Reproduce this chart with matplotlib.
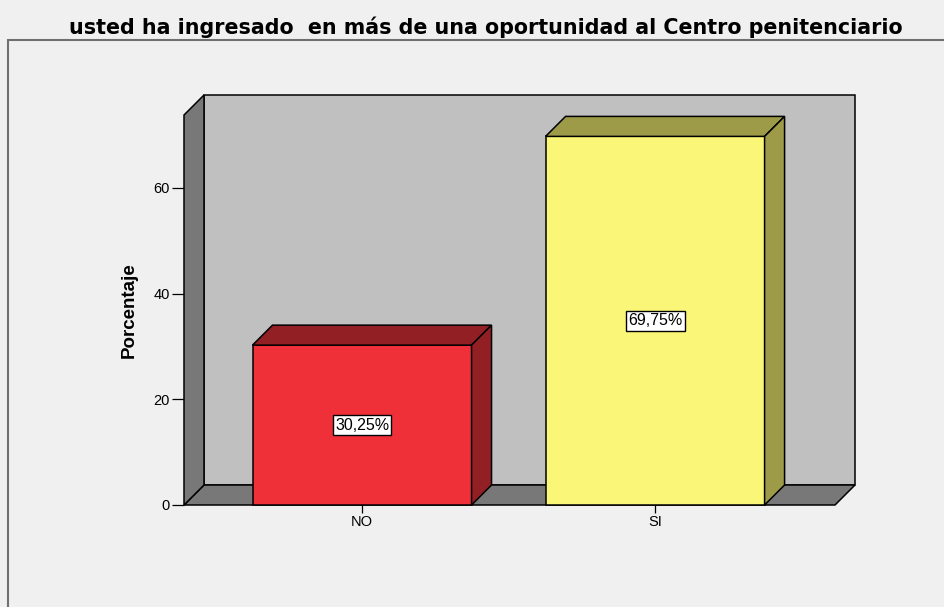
import matplotlib
matplotlib.use("Agg")
import matplotlib.pyplot as plt
from matplotlib.patches import Polygon, Rectangle

# ---- data ----
categories = ["NO", "SI"]
values = [30.25, 69.75]
yticks = [0, 20, 40, 60]
title = "usted ha ingresado  en más de una oportunidad al Centro penitenciario"
ylabel = "Porcentaje"

front_colors = ["#EF3038", "#FAF677"]
dark_colors = ["#921F23", "#9D9A48"]

W, H = 944, 607
fig = plt.figure(figsize=(W / 100, H / 100), dpi=100, facecolor="#F0F0F0")

# outer frame
fig.patches.append(Rectangle((8 / W, -0.02), 1.0, (H - 40) / H + 0.02,
                             transform=fig.transFigure, fill=False,
                             ec="#707070", lw=1.5))

ax = fig.add_axes([184 / W, 1 - 505 / H, 651 / W, 390 / H])
ax.patch.set_visible(False)
for s in ax.spines.values():
    s.set_visible(False)

ymax = 73.8
xl, xr = -0.6075, 1.614
ax.set_xlim(xl, xr)
ax.set_ylim(0, ymax)
ddx = (xr - xl) / 651 * 20
ddy = ymax / 390 * 20
hw = 0.3737

def poly(verts, fc, z):
    ax.add_patch(Polygon(verts, closed=True, fc=fc, ec="black", lw=1.1,
                         clip_on=False, zorder=z, joinstyle="miter"))

# walls
poly([(xl + ddx, ddy), (xr + ddx, ddy), (xr + ddx, ymax + ddy), (xl + ddx, ymax + ddy)], "#C0C0C0", 1)
poly([(xl, 0), (xr, 0), (xr + ddx, ddy), (xl + ddx, ddy)], "#787878", 2)
poly([(xl, 0), (xl + ddx, ddy), (xl + ddx, ymax + ddy), (xl, ymax)], "#787878", 2)

for i, (cat, v) in enumerate(zip(categories, values)):
    poly([(i - hw, 0), (i + hw, 0), (i + hw, v), (i - hw, v)], front_colors[i], 3)
    poly([(i - hw, v), (i + hw, v), (i + hw + ddx, v + ddy), (i - hw + ddx, v + ddy)], dark_colors[i], 3)
    poly([(i + hw, 0), (i + hw + ddx, ddy), (i + hw + ddx, v + ddy), (i + hw, v)], dark_colors[i], 3)
    lab = f"{v:.2f}".replace(".", ",") + "%"
    ax.text(i, v / 2, lab, ha="center", va="center", fontsize=11.5,
            family="Liberation Sans", zorder=5,
            bbox=dict(boxstyle="square,pad=0.15", fc="white", ec="black", lw=1.0))

ax.set_xticks(range(len(categories)))
ax.set_xticklabels(categories, family="Liberation Sans", fontsize=10.5)
ax.set_yticks(yticks)
ax.set_yticklabels([str(t) for t in yticks], family="Liberation Sans", fontsize=10.5)
ax.tick_params(axis="y", length=8.5, width=0.9, pad=1.5, colors="black")
ax.tick_params(axis="x", length=5.5, width=0.9, pad=1.5, colors="black")

fig.text(485.5 / W, 1 - 27 / H, title, ha="center", va="center",
         fontsize=14.9, fontweight="bold", family="DejaVu Sans")
fig.text(129 / W, 1 - 310 / H, ylabel, ha="center", va="center", rotation=90,
         fontsize=13.5, fontweight="bold", family="Liberation Sans")

fig.savefig("out.png", dpi=100, facecolor=fig.get_facecolor())
